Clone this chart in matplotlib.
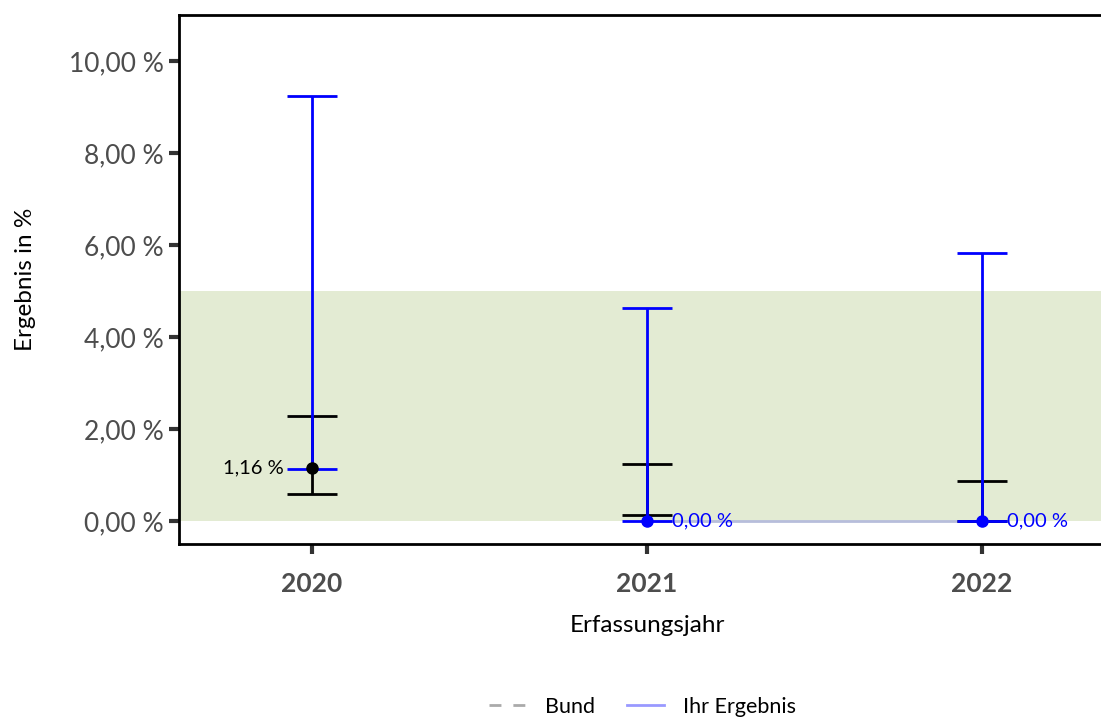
import numpy as np
import matplotlib
matplotlib.use("Agg")
import matplotlib.pyplot as plt
from matplotlib.lines import Line2D
from matplotlib.ticker import FuncFormatter

plt.rcParams['font.family'] = ['Lato', 'DejaVu Sans']

jahre = [2020, 2021, 2022]

# Ihr Ergebnis (Wert und Vertrauensbereich)
ergebnis = [1.16, 0.00, 0.00]
ergebnis_unten = [1.13, 0.00, 0.00]
ergebnis_oben = [9.25, 4.63, 5.83]
ergebnis_farbe = ["black", "blue", "blue"]

# Bund (Vertrauensbereich)
bund_unten = [0.59, 0.13, 0.00]
bund_oben = [2.28, 1.24, 0.87]

# Verbindungslinie Ihr Ergebnis
linie = [np.nan, 0.00, 0.00]

# Referenzbereich
ref_unten = 0.0
ref_oben = 5.0

fig = plt.figure(figsize=(11.01, 7.18), dpi=100)
ax = fig.add_axes([179 / 1101, 1 - 544 / 718, (1115 - 179) / 1101, (544 - 15) / 718])

ax.axhspan(ref_unten, ref_oben, color="#e3ebd3", zorder=0, lw=0)

x = np.array(jahre)
ax.plot(x, linie, color="#b7bddb", lw=2, zorder=1)

b = np.array(bund_unten)
t = np.array(bund_oben)
mid = (b + t) / 2
ax.errorbar(x, mid, yerr=[mid - b, t - mid], fmt="none", ecolor="black",
            elinewidth=2, capsize=18, capthick=2, zorder=2)

e = np.array(ergebnis)
lo = np.array(ergebnis_unten)
hi = np.array(ergebnis_oben)
ax.errorbar(x, e, yerr=[e - lo, hi - e], fmt="none", ecolor="blue",
            elinewidth=2, capsize=18, capthick=2, zorder=3)

for xi, yi, c in zip(x, e, ergebnis_farbe):
    ax.plot(xi, yi, "o", color=c, markersize=8, zorder=4)
    txt = f"{yi:.2f} %".replace(".", ",")
    if c == "black":
        ax.annotate(txt, (xi, yi), xytext=(-20, 0), textcoords="offset points",
                    ha="right", va="center", fontsize=14.5, color=c, zorder=5)
    else:
        ax.annotate(txt, (xi, yi), xytext=(18, 0), textcoords="offset points",
                    ha="left", va="center", fontsize=14.5, color=c, zorder=5)

ax.set_xlim(2019.603, 2022.397)
ax.set_ylim(-0.5, 11.0)
ax.set_yticks([0, 2, 4, 6, 8, 10])
ax.yaxis.set_major_formatter(FuncFormatter(lambda v, p: f"{v:.2f} %".replace(".", ",")))
ax.set_xticks(jahre)
ax.set_xticklabels([str(j) for j in jahre], fontweight="bold")

ax.tick_params(axis="both", labelsize=19, labelcolor="#4d4d4d", color="#333333",
               width=3, length=7)
ax.tick_params(axis="x", pad=13)
ax.tick_params(axis="y", pad=4)

for s in ["left", "bottom", "top"]:
    ax.spines[s].set_linewidth(2)
ax.spines["right"].set_visible(False)

ax.set_xlabel("Erfassungsjahr", fontsize=17.5, labelpad=14)
ax.set_ylabel("Ergebnis in %", fontsize=17.5, labelpad=24)

handles = [Line2D([], [], color="#aaaaaa", lw=2, ls=(0, (4.3, 4.3))),
           Line2D([], [], color="#9999ff", lw=2)]
fig.legend(handles, ["Bund", "Ihr Ergebnis"], loc="center", bbox_to_anchor=(0.5836, 1 - 707 / 718),
           ncol=2, frameon=False, fontsize=15.5, handlelength=1.75, handletextpad=0.85,
           columnspacing=1.45)

fig.savefig("out.png", dpi=100)
